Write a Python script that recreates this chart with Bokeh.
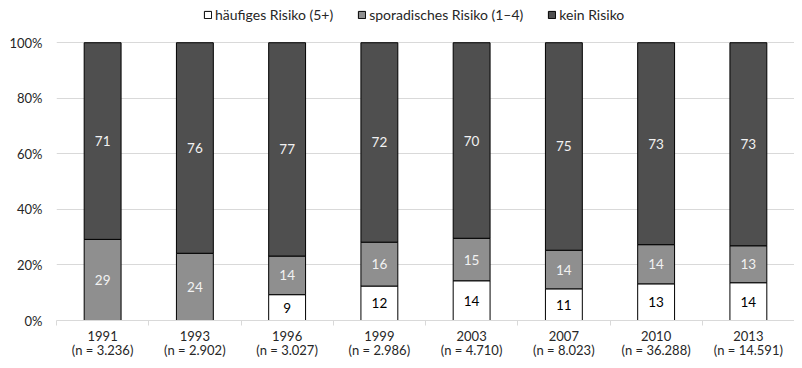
from bokeh.plotting import figure
from bokeh.models import (ColumnDataSource, FixedTicker, PrintfTickFormatter,
                          Legend, LegendItem, Range1d)
from bokeh.core.properties import value
from bokeh.embed import file_html
from bokeh.resources import INLINE

years = ["1991", "1993", "1996", "1999", "2003", "2007", "2010", "2013"]
n_labels = ["3.236", "2.902", "3.027", "2.986", "4.710", "8.023", "36.288", "14.591"]
haeufig = [0, 0, 9.3, 12.4, 14.3, 11.4, 13.2, 13.6]
sporadisch = [29.2, 24.2, 13.9, 15.8, 15.3, 13.9, 14.1, 13.3]
kein = [70.8, 75.8, 76.8, 71.8, 70.4, 74.7, 72.7, 73.1]
series_names = ["häufiges Risiko (5+)", "sporadisches Risiko (1–4)", "kein Risiko"]
y_ticks = [0, 20, 40, 60, 80, 100]

FONT = "Lato"
colors = ["#ffffff", "#8f8f8f", "#4f4f4f"]
text_colors = ["#000000", "#f2f2f2", "#f2f2f2"]
keys = ["haeufig", "sporadisch", "kein"]

xs = [i + 0.5 for i in range(len(years))]
source = ColumnDataSource(dict(x=xs, haeufig=haeufig, sporadisch=sporadisch, kein=kein))

p = figure(width=794, height=360, x_range=Range1d(0, len(years)), y_range=Range1d(0, 113.4),
           output_backend="svg", toolbar_location=None,
           min_border_left=56, min_border_right=0, min_border_top=5, min_border_bottom=34)
p.outline_line_color = None
p.background_fill_color = "white"
p.border_fill_color = "white"

rs = p.vbar_stack(keys, x="x", width=0.4, source=source,
                  fill_color=colors, line_color="black", line_width=1)

# value labels
lx, ly, lt, lc = [], [], [], []
series = [haeufig, sporadisch, kein]
for i in range(len(years)):
    bottom = 0
    for s, vals in enumerate(series):
        v = vals[i]
        if v > 0:
            lx.append(xs[i])
            ly.append(bottom + v / 2)
            lt.append(str(round(v)))
            lc.append(text_colors[s])
        bottom += v
p.text(x=lx, y=ly, text=lt, text_color=lc, text_align="center", text_baseline="middle",
       text_font=value(FONT), text_font_size="13.5px")

# x axis
xa = p.xaxis[0]
xa.ticker = FixedTicker(ticks=xs, minor_ticks=list(range(len(years) + 1)))
xa.major_label_overrides = {x: f"{y}\n(n = {n})" for x, y, n in zip(xs, years, n_labels)}
xa.major_tick_line_color = None
xa.major_tick_out = 0
xa.major_tick_in = 0
xa.minor_tick_out = 5
xa.minor_tick_in = 0
xa.minor_tick_line_color = "#d9d9d9"
xa.axis_line_color = "#d9d9d9"
xa.major_label_text_font = FONT
xa.major_label_text_font_size = "13px"
xa.major_label_text_line_height = 0.88
xa.major_label_text_color = "#262626"
xa.major_label_standoff = 2

# y axis
ya = p.yaxis[0]
ya.ticker = FixedTicker(ticks=y_ticks)
ya.formatter = PrintfTickFormatter(format="%d%%")
ya.axis_line_color = None
ya.major_tick_line_color = None
ya.minor_tick_line_color = None
ya.major_tick_out = 0
ya.major_tick_in = 0
ya.major_label_standoff = 14
ya.major_label_text_font = FONT
ya.major_label_text_font_size = "13px"
ya.major_label_text_color = "#262626"

p.xgrid.visible = False
p.ygrid.ticker = FixedTicker(ticks=y_ticks)
p.ygrid.grid_line_color = "#d9d9d9"

legend = Legend(items=[LegendItem(label=n, renderers=[r]) for n, r in zip(series_names, rs)],
                orientation="horizontal", location=(147, 297),
                glyph_width=9, glyph_height=9, label_standoff=3, spacing=24,
                padding=0, margin=0, border_line_color=None, background_fill_alpha=0,
                label_text_font=FONT, label_text_font_size="14px", label_text_color="#262626")
p.add_layout(legend, "center")

open("out.html", "w").write(file_html(p, INLINE))
